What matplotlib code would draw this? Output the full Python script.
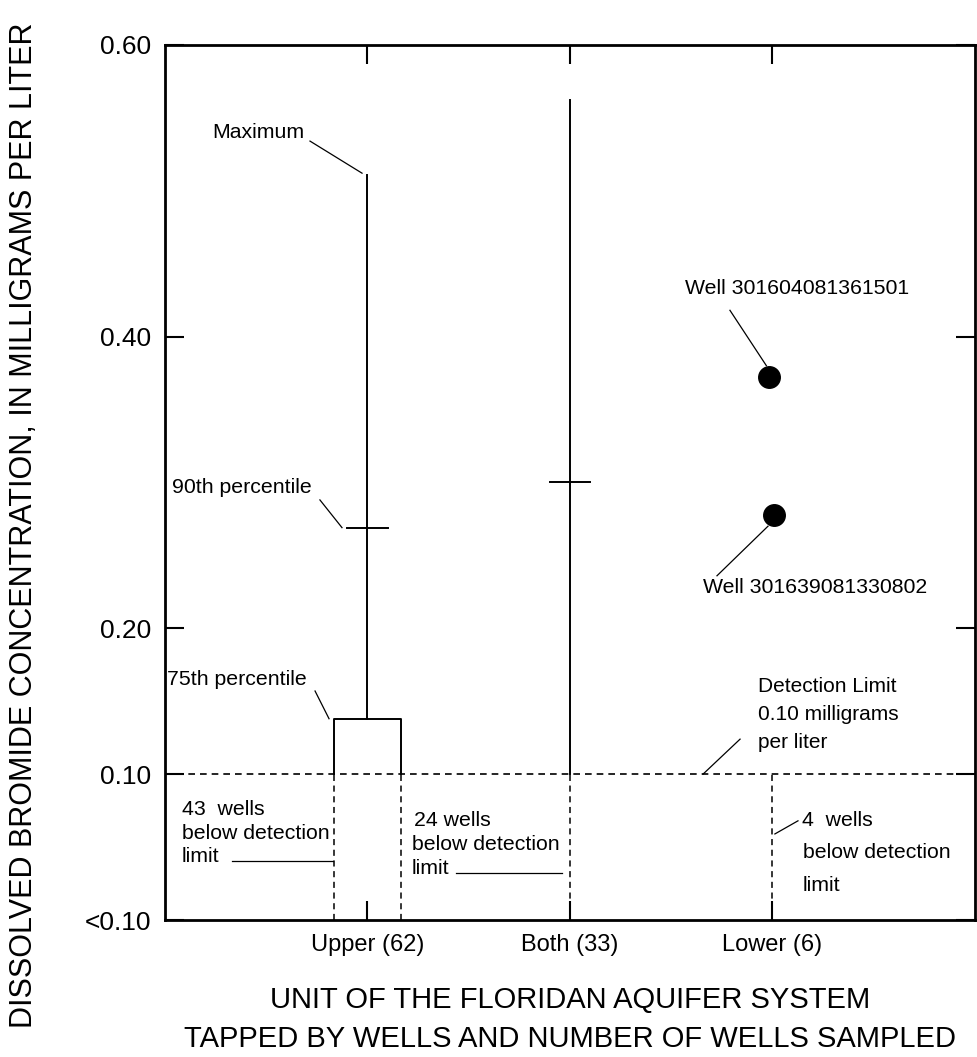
import numpy as np
import matplotlib
matplotlib.use("Agg")
import matplotlib.pyplot as plt

plt.rcParams['font.family'] = ['Liberation Sans', 'DejaVu Sans']

# Data (mg/L); "<0.10" is drawn at 0.0
categories = ['Upper (62)', 'Both (33)', 'Lower (6)']
cat_x = [1, 2, 3]
detection_limit = 0.10

upper_max = 0.511
upper_p90 = 0.269
upper_p75 = 0.138
both_max = 0.562
both_p90 = 0.300
lower_wells = [0.372, 0.278]
lower_well_x = [2.985, 3.01]
well_names = ['Well 301604081361501', 'Well 301639081330802']

ytick_vals = [0.0, 0.10, 0.20, 0.40, 0.60]
ytick_labels = ['<0.10', '0.10', '0.20', '0.40', '0.60']

fig = plt.figure(figsize=(9.77, 10.57), dpi=100)
ax = fig.add_axes([0.1689, 0.1296, 0.829, 0.828])
ax.set_xlim(0, 4)
ax.set_ylim(0, 0.6)

lw = 1.4
dash = (0, (4, 3))
box_half = 0.163
tick_half = 0.1
fs = 15.3

# detection limit line
ax.axhline(detection_limit, color='black', lw=1.2, ls=dash)

# Upper: box from detection limit to 75th, whisker to max, 90th tick
xu = cat_x[0]
ax.plot([xu - box_half, xu - box_half, xu + box_half, xu + box_half],
        [detection_limit, upper_p75, upper_p75, detection_limit], color='black', lw=lw)
ax.plot([xu, xu], [upper_p75, upper_max], color='black', lw=lw)
ax.plot([xu - tick_half, xu + tick_half], [upper_p90, upper_p90], color='black', lw=lw)
for xe in (xu - box_half, xu + box_half):
    ax.plot([xe, xe], [0, detection_limit], color='black', lw=1.1, ls=dash)

# Both: line to max, 90th tick
xb = cat_x[1]
ax.plot([xb, xb], [detection_limit, both_max], color='black', lw=lw)
ax.plot([xb - tick_half, xb + tick_half], [both_p90, both_p90], color='black', lw=lw)
ax.plot([xb, xb], [0, detection_limit], color='black', lw=1.1, ls=dash)

# Lower: individual wells
xl = cat_x[2]
ax.plot(lower_well_x, lower_wells, 'o', color='black', ms=15.5)
ax.plot([xl, xl], [0, detection_limit], color='black', lw=1.1, ls=dash)

# annotations
def leader(p0, p1):
    ax.plot([p0[0], p1[0]], [p0[1], p1[1]], color='black', lw=0.9)

ax.text(0.459, 0.5396, 'Maximum', fontsize=fs, ha='center', va='center')
leader((0.716, 0.534), (0.973, 0.512))
ax.text(0.726, 0.2964, '90th percentile', fontsize=fs, ha='right', va='center')
leader((0.765, 0.288), (0.874, 0.269))
ax.text(0.701, 0.165, '75th percentile', fontsize=fs, ha='right', va='center')
leader((0.741, 0.157), (0.81, 0.138))
ax.text(3.121, 0.4331, well_names[0], fontsize=fs, ha='center', va='center')
leader((2.79, 0.418), (2.97, 0.38))
ax.text(3.21, 0.2277, well_names[1], fontsize=fs, ha='center', va='center')
leader((2.726, 0.236), (2.978, 0.27))

ax.text(2.928, 0.160, 'Detection Limit', fontsize=15, va='center')
ax.text(2.928, 0.141, '0.10 milligrams', fontsize=15, va='center')
ax.text(2.928, 0.122, 'per liter', fontsize=15, va='center')
leader((2.657, 0.1), (2.84, 0.124))

ax.text(0.084, 0.076, '43  wells', fontsize=fs, va='center')
ax.text(0.084, 0.0595, 'below detection', fontsize=fs, va='center')
ax.text(0.084, 0.0437, 'limit', fontsize=fs, va='center')
leader((0.331, 0.0403), (0.83, 0.0403))

ax.text(1.23, 0.068, '24 wells', fontsize=fs, va='center')
ax.text(1.218, 0.052, 'below detection', fontsize=fs, va='center')
ax.text(1.218, 0.035, 'limit', fontsize=fs, va='center')
leader((1.437, 0.032), (1.96, 0.032))

ax.text(3.145, 0.068, '4  wells', fontsize=fs, va='center')
ax.text(3.15, 0.046, 'below detection', fontsize=fs, va='center')
ax.text(3.15, 0.024, 'limit', fontsize=fs, va='center')
leader((3.012, 0.059), (3.126, 0.068))

# axes styling
for s in ax.spines.values():
    s.set_linewidth(2)
ax.set_xticks(cat_x)
ax.set_xticklabels(categories, fontsize=17)
ax.set_yticks(ytick_vals)
ax.set_yticklabels(ytick_labels, fontsize=19)
ax.tick_params(axis='both', direction='in', length=14, width=1.5,
               top=True, right=True, pad=10)

ax.set_xlabel('UNIT OF THE FLORIDAN AQUIFER SYSTEM\nTAPPED BY WELLS AND NUMBER OF WELLS SAMPLED',
              fontsize=21, linespacing=1.5, labelpad=22)
fig.text(24 / 977, 1 - 525 / 1057, 'DISSOLVED BROMIDE CONCENTRATION, IN MILLIGRAMS PER LITER',
         fontsize=22, rotation=90, ha='center', va='center')

fig.savefig('out.png', dpi=100)
